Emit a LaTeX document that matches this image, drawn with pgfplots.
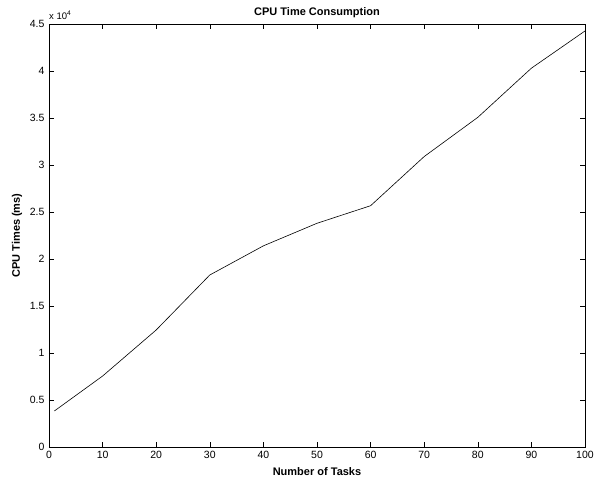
\documentclass[border=0pt]{standalone}
\usepackage{pgfplots}
\pgfplotsset{compat=1.18}
\usepackage{fontspec}
\setmainfont{Liberation Sans}
\begin{document}
\begin{tikzpicture}
\path[use as bounding box] (-49pt,-30pt) rectangle (545pt,447pt);
\begin{axis}[
  at={(0pt,0pt)}, anchor=south west,
  scale only axis, width=536pt, height=423pt,
  xmin=0, xmax=100, ymin=0, ymax=45000,
  xtick={0,10,...,100},
  ytick={0,5000,10000,15000,20000,25000,30000,35000,40000,45000},
  yticklabels={0,0.5,1,1.5,2,2.5,3,3.5,4,4.5},
  scaled y ticks=false,
  /pgf/number format/assume math mode=true,
  tick label style={font=\fontsize{10.5}{12}\selectfont},
  xticklabel style={yshift=-1pt},
  yticklabel style={xshift=-1pt},
  tick align=inside, major tick length=5pt,
  tick style={black, line width=0.6pt},
  axis line style={line width=0.9pt},
  title={\bfseries CPU Time Consumption},
  title style={font=\fontsize{11}{12}\selectfont, at={(axis description cs:0.5,1)}, anchor=center, yshift=5pt},
  xlabel={\bfseries Number of Tasks},
  ylabel={\bfseries CPU Times (ms)},
  label style={font=\fontsize{11}{12}\selectfont},
  xlabel style={at={(axis description cs:0.5,0)}, anchor=center, yshift=-25pt},
  ylabel style={at={(axis description cs:0,0.5)}, anchor=center, yshift=32pt},
  clip=false,
]
\addplot[black, line width=0.6pt, mark=none] coordinates {
(1,3830) (10,7550) (20,12450) (30,18300) (40,21400) (50,23800) (60,25670) (70,30900) (80,35070) (90,40300) (100,44260)
};
\node[anchor=south west, inner sep=0pt, font=\fontsize{9.5}{11}\selectfont] at (rel axis cs:0,1) [yshift=4pt] {x 10\textsuperscript{4}};
\end{axis}
\end{tikzpicture}
\end{document}
